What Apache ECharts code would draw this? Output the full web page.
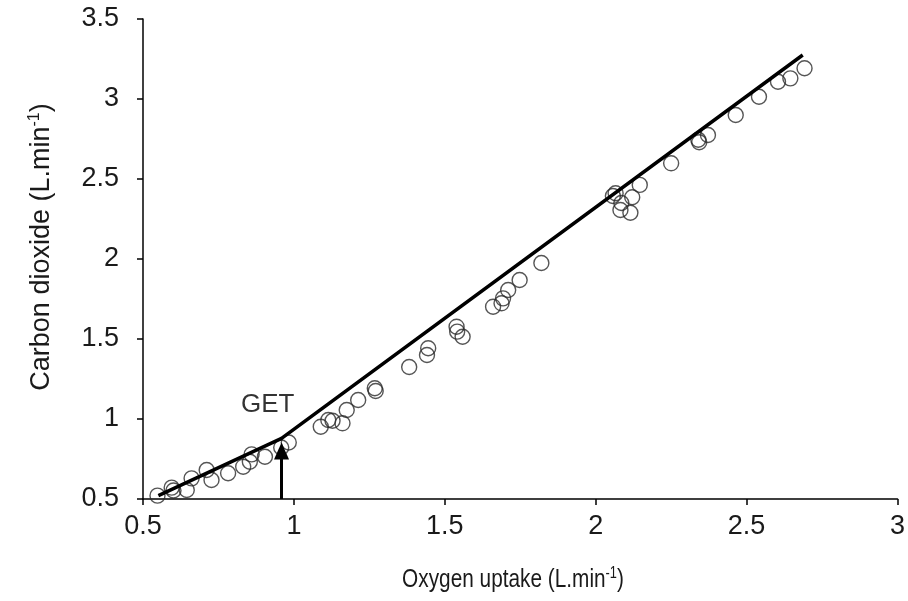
<!DOCTYPE html>
<html>
<head>
<meta charset="utf-8">
<script src="https://cdn.jsdelivr.net/npm/echarts@6/dist/echarts.min.js"></script>
<style>
html,body{margin:0;padding:0;background:#fff;}
#chart{width:908px;height:601px;}
</style>
</head>
<body>
<div id="chart"></div>
<script>
// Observed data: oxygen uptake (x) vs carbon dioxide (y), L.min-1
const oxygenUptake = [0.548,0.595,0.601,0.645,0.661,0.711,0.727,0.782,0.832,0.854,0.860,0.904,0.958,0.983,
  1.089,1.114,1.128,1.161,1.175,1.213,1.268,1.271,1.382,1.445,1.441,1.539,1.541,1.559,
  1.660,1.688,1.693,1.710,1.748,1.820,2.057,2.066,2.085,2.082,2.121,2.146,2.115,2.250,
  2.340,2.343,2.372,2.464,2.541,2.604,2.645,2.692];
const carbonDioxide = [0.521,0.571,0.553,0.556,0.629,0.681,0.619,0.661,0.702,0.733,0.779,0.764,0.822,0.853,
  0.952,0.994,0.989,0.973,1.056,1.119,1.192,1.175,1.325,1.442,1.400,1.577,1.546,1.514,
  1.702,1.723,1.754,1.806,1.869,1.975,2.394,2.411,2.350,2.306,2.386,2.463,2.289,2.598,
  2.745,2.730,2.775,2.900,3.014,3.108,3.129,3.192];
// Two-segment fit with breakpoint (GET)
const fitX = [0.551, 0.959, 2.686];
const fitY = [0.521, 0.879, 3.275];
// GET annotation
const getX = 0.959;
const getArrowY = [0.5, 0.80];
const getLabel = 'GET';
const getLabelPos = [0.913, 1.09];
const xTicks = {min: 0.5, max: 3, interval: 0.5};
const yTicks = {min: 0.5, max: 3.5, interval: 0.5};
const xTitle = 'Oxygen uptake (L.min{sup|-1})';
const yTitle = 'Carbon dioxide (L.min{sup|-1})';

const font = 'Liberation Sans, Arial, sans-serif';
const txt = '#1a1a1a';
const chart = echarts.init(document.getElementById('chart'), null, {renderer: 'canvas'});
const pts = oxygenUptake.map((x, i) => [x, carbonDioxide[i]]);
const fit = fitX.map((x, i) => [x, fitY[i]]);

chart.setOption({
  animation: false,
  backgroundColor: '#fff',
  grid: {left: 143, right: 10, top: 19, bottom: 102, containLabel: false},
  graphic: [{
    type: 'text', x: 513, y: 580, scaleX: 0.8, scaleY: 1, z: 10,
    style: {
      text: xTitle, fontSize: 26, fontFamily: font, fill: txt,
      align: 'center', verticalAlign: 'middle',
      rich: {sup: {fontSize: 16, verticalAlign: 'top', padding: [0,0,13,0], fontFamily: font, fill: txt}}
    }
  }],
  xAxis: {
    type: 'value', min: xTicks.min, max: xTicks.max, interval: xTicks.interval,
    splitLine: {show: false},
    axisLine: {lineStyle: {color: '#000', width: 1.5}},
    axisTick: {inside: false, length: 6, lineStyle: {color: '#000', width: 1.5}},
    axisLabel: {color: txt, fontSize: 27, fontFamily: font, margin: 14}
  },
  yAxis: {
    type: 'value', min: yTicks.min, max: yTicks.max, interval: yTicks.interval,
    splitLine: {show: false},
    axisLine: {show: true, lineStyle: {color: '#000', width: 1.5}},
    axisTick: {show: true, inside: false, length: 6, lineStyle: {color: '#000', width: 1.5}},
    axisLabel: {color: txt, fontSize: 27, fontFamily: font, margin: 24},
    name: yTitle,
    nameLocation: 'middle', nameGap: 87, nameRotate: 90,
    nameTextStyle: {color: txt, fontSize: 27, fontFamily: font, padding: [0, 0, 0, 24],
      rich: {sup: {fontSize: 16, verticalAlign: 'top', padding: [0,0,13,0], fontFamily: font, color: txt}}}
  },
  series: [
    {
      type: 'scatter', data: pts, symbol: 'circle', symbolSize: 15, z: 2,
      itemStyle: {color: 'rgba(255,255,255,0)', borderColor: '#2a2a2a', borderWidth: 1.4}
    },
    {
      type: 'line', data: fit, symbol: 'none', z: 3,
      lineStyle: {color: '#000', width: 3.5},
      markLine: {
        silent: true, symbol: ['none', 'triangle'], symbolSize: [15, 17],
        lineStyle: {color: '#000', width: 3, type: 'solid'},
        label: {show: false},
        data: [[{coord: [getX, getArrowY[0]]}, {coord: [getX, getArrowY[1]]}]]
      }
    },
    {
      type: 'scatter', data: [getLabelPos], symbolSize: 0, z: 4,
      label: {show: true, position: 'inside', formatter: getLabel, color: '#000', fontSize: 26, fontFamily: font}
    }
  ]
});
</script>
</body>
</html>
